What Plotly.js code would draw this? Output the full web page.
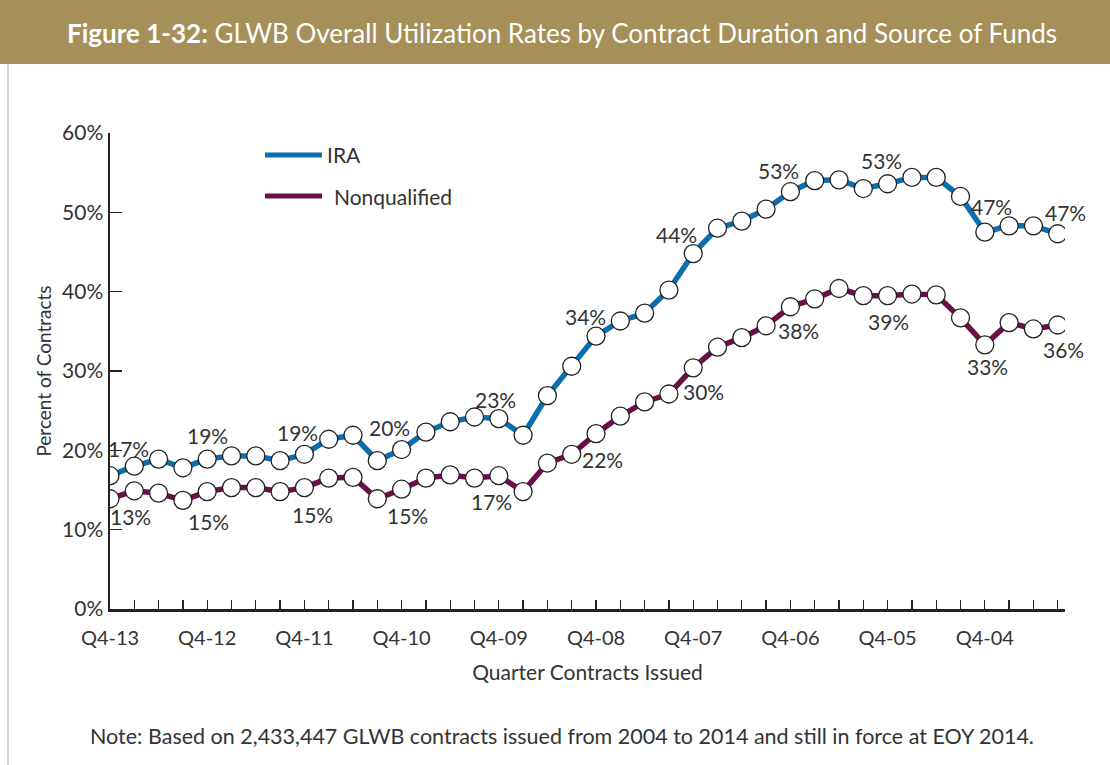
<!DOCTYPE html>
<html>
<head>
<meta charset="utf-8">
<script src="https://cdn.plot.ly/plotly-3.0.1.min.js"></script>
<style>html,body{margin:0;padding:0;background:#fff;}#chart{width:1110px;height:765px;}</style>
</head>
<body>
<div id="chart"></div>
<script>
// ---- data ----
const quarters = ["Q4-13","Q3-13","Q2-13","Q1-13","Q4-12","Q3-12","Q2-12","Q1-12",
  "Q4-11","Q3-11","Q2-11","Q1-11","Q4-10","Q3-10","Q2-10","Q1-10",
  "Q4-09","Q3-09","Q2-09","Q1-09","Q4-08","Q3-08","Q2-08","Q1-08",
  "Q4-07","Q3-07","Q2-07","Q1-07","Q4-06","Q3-06","Q2-06","Q1-06",
  "Q4-05","Q3-05","Q2-05","Q1-05","Q4-04","Q3-04","Q2-04","Q1-04"];
const iraName = "IRA";
const nqName = "Nonqualified";
const iraValues = [16.8,18.0,18.9,17.8,18.9,19.3,19.3,18.7,
  19.5,21.4,21.9,18.7,20.1,22.3,23.6,24.2,
  24.0,21.9,26.9,30.6,34.4,36.3,37.3,40.2,
  44.8,48.0,48.9,50.4,52.6,54.0,54.1,53.0,
  53.6,54.4,54.4,52.0,47.5,48.3,48.3,47.3];
const nqValues = [13.9,14.9,14.6,13.7,14.8,15.3,15.3,14.8,
  15.3,16.5,16.6,13.9,15.1,16.5,16.9,16.5,
  16.8,14.8,18.4,19.5,22.1,24.3,26.1,27.1,
  30.4,33.0,34.2,35.7,38.1,39.1,40.4,39.5,
  39.5,39.7,39.6,36.7,33.3,36.1,35.3,35.8];
// labelled points: index -> label text
const iraLabelIdx = [0,4,8,12,16,20,24,28,32,36,39];
const iraLabelText = ["17%","19%","19%","20%","23%","34%","44%","53%","53%","47%","47%"];
const nqLabelIdx = [0,4,8,12,16,20,24,28,32,36,39];
const nqLabelText = ["13%","15%","15%","15%","17%","22%","30%","38%","39%","33%","36%"];
const yTickVals = [0,10,20,30,40,50,60];
const yTickText = ["0%","10%","20%","30%","40%","50%","60%"];
const titleBold = "Figure 1-32:";
const titleRest = "GLWB Overall Utilization Rates by Contract Duration and Source of Funds";
const xTitle = "Quarter Contracts Issued";
const yTitle = "Percent of Contracts";
const note = "Note: Based on 2,433,447 GLWB contracts issued from 2004 to 2014 and still in force at EOY 2014.";

// ---- styles ----
const FONT = "Lato, 'Open Sans', sans-serif";
const TXT = "#333333";
const BLUE = "#0b6fae";
const MAROON = "#6a0f48";
const GOLD = "#a68f59";

// offsets (px) for value labels
const iraOff = [[18,27],[0,24],[-7,22],[-12,22],[-3,19],[-11,20],[-17,19],[-12,21],[-6,23],[7,26],[8,21]];
const nqOff = [[20,-18],[1,-30],[8,-27],[6,-26],[-7,-26],[6,-26],[10,-24],[8,-24],[1,-26],[3,-22],[6,-25]];

const xIdx = quarters.map((q,i)=>i);

function seriesTrace(vals, color, name){
  return {
    x: xIdx, y: vals, name: name, type: 'scatter', mode: 'lines+markers',
    showlegend: false, hoverinfo: 'skip',
    line: {color: color, width: 5.5},
    marker: {size: 18, color: '#ffffff', line: {color: '#222', width: 1.3}}
  };
}
const traces = [seriesTrace(nqValues, MAROON, nqName), seriesTrace(iraValues, BLUE, iraName)];

const annotations = [];
iraLabelIdx.forEach((idx,k)=>{
  annotations.push({x: idx, y: iraValues[idx], xref:'x', yref:'y', text: iraLabelText[k],
    showarrow:false, xshift: iraOff[k][0], yshift: iraOff[k][1],
    font:{family:FONT, size:21, color:TXT}});
});
nqLabelIdx.forEach((idx,k)=>{
  annotations.push({x: idx, y: nqValues[idx], xref:'x', yref:'y', text: nqLabelText[k],
    showarrow:false, xshift: nqOff[k][0], yshift: nqOff[k][1],
    font:{family:FONT, size:21, color:TXT}});
});

// plot area: x 110..1065, y 133..609 (pixels)
const PW = 955, PH = 476, L = 110, T = 133;
const px = p => (p - L) / PW;
const py = p => (T + PH - p) / PH;

// title
annotations.push({xref:'paper', yref:'paper', x: px(562), y: py(33), text:
  '<b>'+titleBold+'</b> '+titleRest, showarrow:false, xanchor:'center', yanchor:'middle',
  font:{family:FONT, size:26, color:'#ffffff'}});
// legend
annotations.push({xref:'paper', yref:'paper', x: px(325), y: py(155), text: iraName,
  showarrow:false, xanchor:'left', yanchor:'middle', font:{family:FONT, size:21, color:TXT}});
annotations.push({xref:'paper', yref:'paper', x: px(332), y: py(196), text: nqName,
  showarrow:false, xanchor:'left', yanchor:'middle', font:{family:FONT, size:21, color:TXT}});
// note
annotations.push({xref:'paper', yref:'paper', x: px(562), y: py(736), text: note,
  showarrow:false, xanchor:'center', yanchor:'middle', font:{family:FONT, size:21.5, color:TXT}});

const shapes = [
  {type:'rect', xref:'paper', yref:'paper', x0: px(0), x1: px(1110), y0: py(0), y1: py(64),
   fillcolor: GOLD, line:{width:0}, layer:'below'},
  {type:'line', xref:'paper', yref:'paper', x0: px(8), x1: px(8), y0: py(64), y1: py(765),
   line:{color:'#c9c9c9', width:1.5}},
  {type:'line', xref:'paper', yref:'paper', x0: px(265), x1: px(322), y0: py(155), y1: py(155),
   line:{color:BLUE, width:5}},
  {type:'line', xref:'paper', yref:'paper', x0: px(265), x1: px(322), y0: py(196), y1: py(196),
   line:{color:MAROON, width:5}}
];

const layout = {
  width: 1110, height: 765,
  margin: {l: L, r: 1110 - L - PW, t: T, b: 765 - T - PH, pad: 0},
  paper_bgcolor: '#ffffff', plot_bgcolor: '#ffffff',
  showlegend: false,
  font: {family: FONT, color: TXT},
  xaxis: {
    range: [0, 39.3], showgrid: false, zeroline: false,
    showline: true, linecolor: '#222', linewidth: 2.5,
    tickmode: 'array', tickvals: xIdx,
    ticktext: quarters.map(q => q.startsWith('Q4') ? q : ''),
    ticks: 'inside', ticklen: 9, tickwidth: 1.3, tickcolor: '#222',
    ticklabelstandoff: 9,
    tickfont: {family: FONT, size: 20, color: TXT},
    title: {text: xTitle, font: {family: FONT, size: 21, color: TXT}, standoff: 18},
    fixedrange: true
  },
  yaxis: {
    range: [0, 60], showgrid: false, zeroline: false,
    showline: true, linecolor: '#222', linewidth: 2.5,
    tickmode: 'array', tickvals: yTickVals, ticktext: yTickText,
    ticks: 'inside', ticklen: 12, tickwidth: 1.3, tickcolor: '#222',
    tickfont: {family: FONT, size: 21, color: TXT},
    title: {text: yTitle, font: {family: FONT, size: 19, color: TXT}, standoff: 6},
    fixedrange: true
  },
  annotations: annotations,
  shapes: shapes
};

Plotly.newPlot('chart', traces, layout, {displayModeBar: false, staticPlot: true});
</script>
</body>
</html>
